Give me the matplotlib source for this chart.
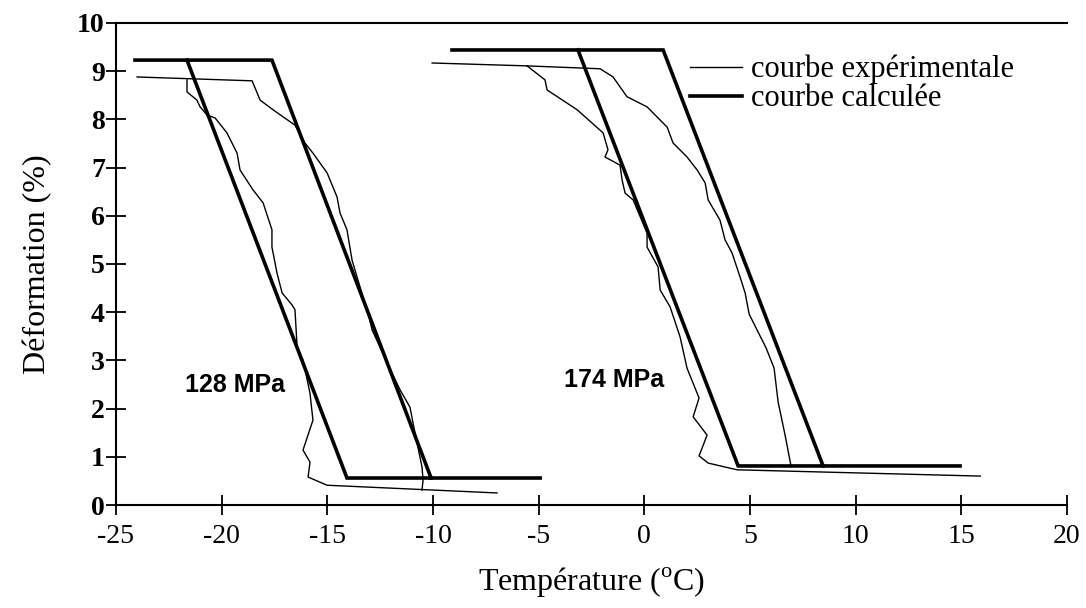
# Transformation strain vs temperature at two stress levels:
# experimental curves (thin) against the calculated model (thick).

import matplotlib
matplotlib.use('Agg')
import matplotlib.pyplot as plt

# --- 128 MPa -------------------------------------------------------------
calc128_heat_T = [-24.1, -17.62, -10.09, -4.93]
calc128_heat_D = [9.23, 9.23, 0.56, 0.56]
calc128_cool_T = [-10.09, -14.07, -21.64]
calc128_cool_D = [0.56, 0.56, 9.23]

exp128_heat_T = [-24.0, -18.56, -18.18, -17.57, -16.53, -16.06, -15.68, -15.01, -14.54,
                 -14.40, -14.07, -13.83, -13.45, -13.07, -12.88, -12.17, -11.56, -11.09,
                 -10.85, -10.52, -10.47, -10.52]
exp128_heat_D = [8.88, 8.80, 8.40, 8.20, 7.88, 7.51, 7.30, 6.89, 6.39,
                 6.06, 5.71, 5.08, 4.52, 3.98, 3.63, 2.95, 2.39, 2.03,
                 1.49, 0.79, 0.52, 0.31]
exp128_cool_T = [-6.97, -15.01, -15.91, -15.82, -16.15, -15.68, -15.82, -16.15, -16.43,
                 -16.53, -16.67, -17.14, -17.38, -17.62, -17.62, -18.04, -18.52, -19.13,
                 -19.27, -19.75, -20.31, -20.69, -21.02, -21.17, -21.64, -21.64]
exp128_cool_D = [0.25, 0.41, 0.58, 0.89, 1.14, 1.76, 2.32, 3.01, 3.28,
                 4.05, 4.15, 4.40, 4.81, 5.35, 5.71, 6.27, 6.54, 6.95,
                 7.30, 7.72, 8.03, 8.09, 8.26, 8.40, 8.57, 8.82]

# --- 174 MPa -------------------------------------------------------------
calc174_heat_T = [-9.10, 0.89, 8.46, 14.94]
calc174_heat_D = [9.44, 9.44, 0.81, 0.81]
calc174_cool_T = [8.46, 4.44, -3.14]
calc174_cool_D = [0.81, 0.81, 9.44]

exp174_heat_T = [-10.04, -5.55, -2.09, -1.48, -0.82, 0.13, 1.08, 1.36, 2.02, 2.50, 2.88,
                 3.02, 3.58, 3.82, 4.15, 4.53, 4.77, 4.96, 5.76, 6.14, 6.33, 6.66, 6.95]
exp174_heat_D = [9.17, 9.11, 9.05, 8.88, 8.47, 8.26, 7.84, 7.51, 7.22, 6.95, 6.68,
                 6.33, 5.91, 5.50, 5.23, 4.73, 4.40, 3.96, 3.26, 2.84, 2.14, 1.45, 0.79]
exp174_cool_T = [15.9, 4.39, 3.02, 2.59, 2.97, 2.31, 2.59, 2.02, 1.69, 1.22, 0.75, 0.65,
                 0.13, 0.13, -0.53, -0.91, -1.05, -1.15, -1.86, -1.72, -1.95, -3.18,
                 -4.60, -4.70, -5.55]
exp174_cool_D = [0.60, 0.73, 0.87, 1.02, 1.45, 1.83, 2.22, 2.84, 3.49, 4.11, 4.46, 4.94,
                 5.35, 5.64, 6.33, 6.47, 6.74, 7.05, 7.22, 7.37, 7.72, 8.20,
                 8.61, 8.82, 9.11]

stress_labels = ['128 MPa', '174 MPa']
stress_label_pos = [(-21.73, 2.49), (-3.8, 2.59)]

x_ticks = [-25, -20, -15, -10, -5, 0, 5, 10, 15, 20]
y_ticks = list(range(0, 11))

plt.rcParams['font.family'] = 'Liberation Serif'
plt.rcParams['mathtext.fontset'] = 'custom'
plt.rcParams['mathtext.rm'] = 'Liberation Serif'

fig = plt.figure(figsize=(10.86, 6.08), dpi=100)
ax = fig.add_axes([0.1068, 0.1694, 0.8757, 0.7928])

thin = dict(color='black', lw=1.0)
thick = dict(color='black', lw=2.6, solid_joinstyle='miter')

ax.plot(exp128_heat_T, exp128_heat_D, label='courbe expérimentale', **thin)
ax.plot(exp128_cool_T, exp128_cool_D, **thin)
ax.plot(exp174_heat_T, exp174_heat_D, **thin)
ax.plot(exp174_cool_T, exp174_cool_D, **thin)

ax.plot(calc128_heat_T, calc128_heat_D, label='courbe calculée', **thick)
ax.plot(calc128_cool_T, calc128_cool_D, **thick)
ax.plot(calc174_heat_T, calc174_heat_D, **thick)
ax.plot(calc174_cool_T, calc174_cool_D, **thick)

for txt, (tx, ty) in zip(stress_labels, stress_label_pos):
    ax.text(tx, ty, txt, ha='left', va='center', fontsize=18, fontweight='bold',
            family='Liberation Sans')

ax.set_xlim(-25, 20)
ax.set_ylim(0, 10)
ax.set_xticks(x_ticks)
ax.set_yticks(y_ticks)
ax.set_xticklabels([str(v) for v in x_ticks], fontsize=20)
ax.set_yticklabels([str(v) for v in y_ticks], fontsize=20, fontweight='bold')
ax.tick_params(axis='both', direction='inout', length=14, width=1.3)
ax.tick_params(axis='x', pad=7)
ax.tick_params(axis='y', pad=1)

ax.spines['right'].set_visible(False)
for s in ['left', 'bottom', 'top']:
    ax.spines[s].set_linewidth(1.5)

ax.set_xlabel(r'Température ($^{\mathrm{o}}$C)', fontsize=23, labelpad=12)
ax.set_ylabel('Déformation (%)', fontsize=23, labelpad=18)

ax.legend(loc='center left', bbox_to_anchor=(0.6036, 0.873), frameon=False,
          fontsize=22, borderpad=0, borderaxespad=0, handlelength=1.7,
          handletextpad=0.3, labelspacing=0.0)

fig.savefig('out.png', dpi=100)
